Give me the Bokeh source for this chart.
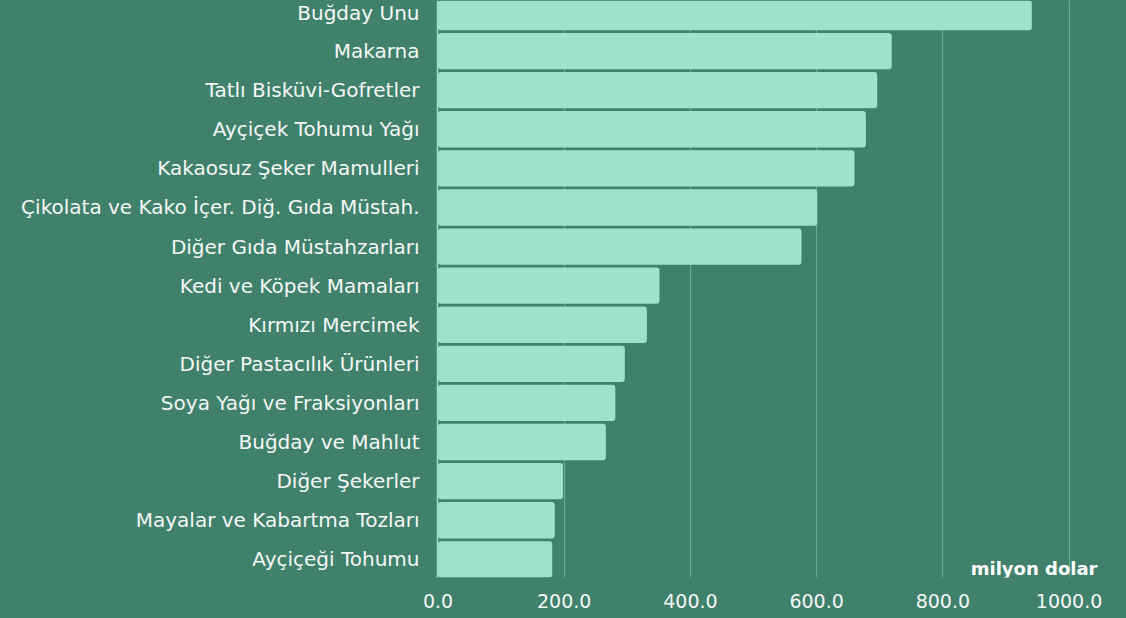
from bokeh.plotting import figure
from bokeh.models import FixedTicker, Label, Range1d, NumeralTickFormatter
from bokeh.embed import file_html
from bokeh.resources import INLINE

categories = [
    "Buğday Unu",
    "Makarna",
    "Tatlı Bisküvi-Gofretler",
    "Ayçiçek Tohumu Yağı",
    "Kakaosuz Şeker Mamulleri",
    "Çikolata ve Kako İçer. Diğ. Gıda Müstah.",
    "Diğer Gıda Müstahzarları",
    "Kedi ve Köpek Mamaları",
    "Kırmızı Mercimek",
    "Diğer Pastacılık Ürünleri",
    "Soya Yağı ve Fraksiyonları",
    "Buğday ve Mahlut",
    "Diğer Şekerler",
    "Mayalar ve Kabartma Tozları",
    "Ayçiçeği Tohumu",
]
values = [941, 719, 696, 678, 660, 601, 576, 351, 331, 296, 281, 266, 198, 185, 181]
x_ticks = [0, 200, 400, 600, 800, 1000]
unit_label = "milyon dolar"

BG = "#40816c"
BAR = "#9fe1cd"
GRID = "#6fa795"
TXT = "#f4f7f5"
FONT = "DejaVu Sans"

n = len(categories)
ypos = [n - 1 - i for i in range(n)]

p = figure(
    width=1126, height=618,
    x_range=Range1d(-0.8, 1091), y_range=Range1d(-0.465, 14.294),
    output_backend="svg", toolbar_location=None,
    background_fill_color=BG, border_fill_color=BG,
    min_border_left=437, min_border_right=0, min_border_top=0, min_border_bottom=41,
)
p.styles = {"background-color": BG}
p.outline_line_color = None

p.hbar(y=ypos, right=values, left=0, height=0.93, fill_color=BAR, line_color=None,
       border_radius=3)

# x axis
p.xaxis.ticker = FixedTicker(ticks=x_ticks)
p.xaxis.formatter = NumeralTickFormatter(format="0.0")
p.xaxis.axis_line_color = None
p.xaxis.major_tick_line_color = None
p.xaxis.minor_tick_line_color = None
p.xaxis.major_tick_out = 0
p.xaxis.major_tick_in = 0
p.xaxis.major_label_text_font = FONT
p.xaxis.major_label_text_font_size = "19px"
p.xaxis.major_label_text_color = TXT
p.xaxis.major_label_standoff = 16

# y axis
p.yaxis.ticker = FixedTicker(ticks=ypos)
p.yaxis.major_label_overrides = {y: c for y, c in zip(ypos, categories)}
p.yaxis.axis_line_color = BAR
p.yaxis.axis_line_width = 1.5
p.yaxis.major_tick_line_color = None
p.yaxis.minor_tick_line_color = None
p.yaxis.major_tick_out = 0
p.yaxis.major_tick_in = 0
p.yaxis.major_label_text_font = FONT
p.yaxis.major_label_text_font_size = "20px"
p.yaxis.major_label_text_color = TXT
p.yaxis.major_label_standoff = 18

p.xgrid.ticker = FixedTicker(ticks=x_ticks[1:])
p.xgrid.grid_line_color = GRID
p.xgrid.grid_line_width = 1.2
p.ygrid.grid_line_color = None

p.add_layout(Label(x=1045, y=-0.235, text=unit_label, text_align="right",
                   text_baseline="middle", text_font=FONT, text_font_size="18px",
                   text_font_style="bold", text_color="#ffffff"))

open("out.html", "w").write(file_html(p, INLINE))
